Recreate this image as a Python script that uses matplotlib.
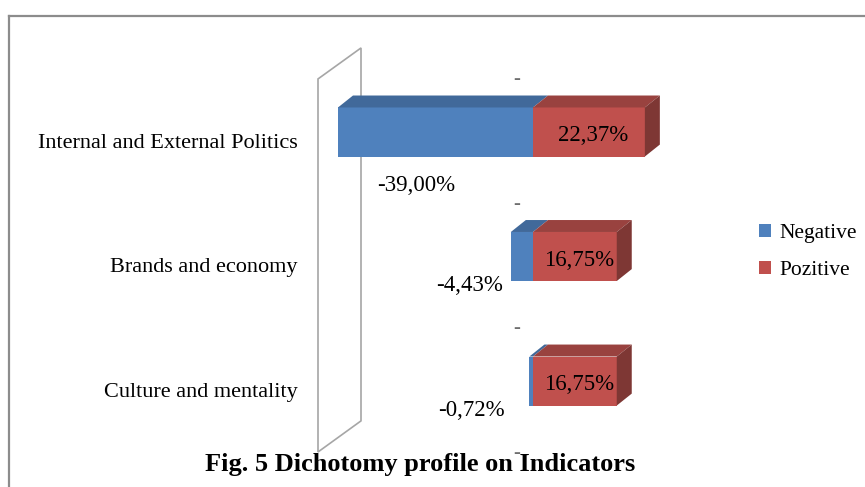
import matplotlib.pyplot as plt
from matplotlib.patches import Polygon
from matplotlib.lines import Line2D

plt.rcParams['font.family'] = ['Liberation Serif', 'DejaVu Serif']

categories = ["Internal and External Politics", "Brands and economy", "Culture and mentality"]
negative = [-39.00, -4.43, -0.72]
pozitive = [22.37, 16.75, 16.75]
neg_labels = ["-39,00%", "-4,43%", "-0,72%"]
pos_labels = ["22,37%", "16,75%", "16,75%"]

BLUE, BLUE_TOP = "#4F81BD", "#41699A"
RED, RED_TOP, RED_SIDE = "#C0504D", "#99423F", "#7E3734"

fig = plt.figure(figsize=(8.65, 4.87), dpi=100)
ax = fig.add_axes([0, 0, 1, 1])
# 5 px per percent, zero at pixel 533; categories 124.5 px apart
ax.set_xlim(-106.6, 66.4)
ax.set_ylim(2.851, -1.06)
ax.axis('off')

# outer frame (top + left)
fig.add_artist(Line2D([9 / 865, 9 / 865], [0, 1 - 16 / 487], transform=fig.transFigure, color="#8C8C8C", lw=1.6))
fig.add_artist(Line2D([9 / 865, 1], [1 - 16 / 487, 1 - 16 / 487], transform=fig.transFigure, color="#8C8C8C", lw=1.6))

# 3D wall behind the bars
wall = Polygon([(-43, 2.57), (-43, -0.426), (-34.4, -0.675), (-34.4, 2.32)],
               closed=True, facecolor="white", edgecolor="#A6A6A6", lw=1.2, zorder=1)
ax.add_patch(wall)

y = list(range(len(categories)))
h = 0.394
dx, dy = 3.0, 0.096

ax.barh(y, negative, height=h, color=BLUE, zorder=3, label="Negative")
ax.barh(y, pozitive, height=h, color=RED, zorder=3, label="Pozitive")

for i in y:
    top = i - h / 2
    bot = i + h / 2
    n, p = negative[i], pozitive[i]
    ax.add_patch(Polygon([(n, top), (0, top), (dx, top - dy), (n + dx, top - dy)],
                         closed=True, facecolor=BLUE_TOP, edgecolor="none", zorder=3))
    ax.add_patch(Polygon([(0, top), (p, top), (p + dx, top - dy), (dx, top - dy)],
                         closed=True, facecolor=RED_TOP, edgecolor="none", zorder=3))
    ax.add_patch(Polygon([(p, top), (p, bot), (p + dx, bot - dy), (p + dx, top - dy)],
                         closed=True, facecolor=RED_SIDE, edgecolor="none", zorder=3))
    ax.text(p / 2 + 0.8, i + 0.03, pos_labels[i], ha="center", va="center", fontsize=16.5, zorder=4)
    ax.text(-47, i + 0.09, categories[i], ha="right", va="center", fontsize=16)

# negative value labels
neg_lx = [-15.6, -6.0, -5.6]
neg_ly = [0.426, 1.229, 2.233]
for lx, ly, t in zip(neg_lx, neg_ly, neg_labels):
    ax.text(lx, ly, t, ha="right", va="center", fontsize=16.5)

# stray dash marks
for i in range(len(categories) + 1):
    ax.text(-3.2, i - 0.42, "-", ha="center", va="center", fontsize=15, color="#6E6E6E")

fig.legend(loc="center left", bbox_to_anchor=(740 / 865, 1 - 252 / 487), frameon=False,
           fontsize=15.5, handlelength=0.55, handleheight=0.55, handletextpad=0.4, labelspacing=0.85)

fig.text(420 / 865, 23 / 487, "Fig. 5 Dichotomy profile on Indicators", ha="center", va="center",
         fontsize=19, fontweight="bold")

fig.savefig("out.png", dpi=100)
